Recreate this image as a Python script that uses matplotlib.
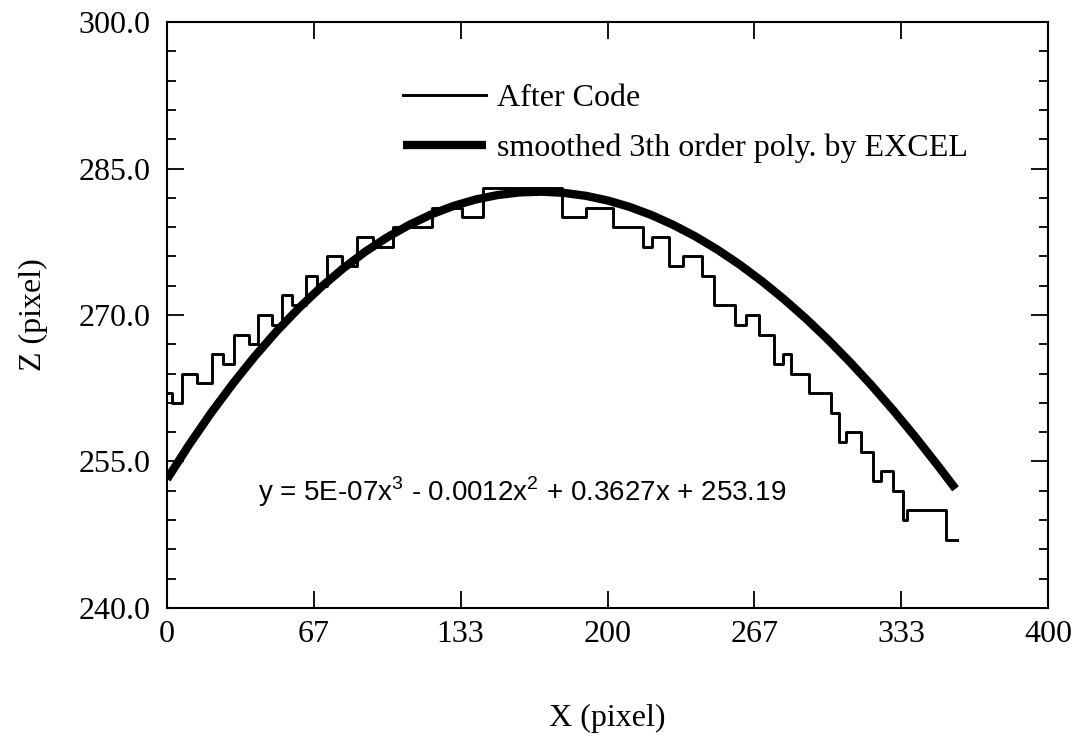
import numpy as np
import matplotlib
matplotlib.use("Agg")
import matplotlib.pyplot as plt
from matplotlib.ticker import FixedLocator, MultipleLocator, FormatStrFormatter

plt.rcParams['font.family'] = ['Liberation Serif', 'DejaVu Serif']
plt.rcParams['mathtext.fontset'] = 'custom'
plt.rcParams['mathtext.rm'] = 'Liberation Sans'

# "After Code" staircase: x where each level starts, and the level (z)
step_x = [0, 2.3, 6.8, 13.6, 20.4, 25.2, 30.4, 37.0, 41.3, 47.7,
          52.2, 56.8, 63.1, 68.1, 72.6, 79.5, 86.3, 93.5, 102.6, 120.3,
          134.0, 143.5, 179.3, 190.2, 202.7, 216.3, 220.2, 228.1, 234.1, 243.1,
          248.4, 258.1, 262.9, 269.0, 275.6, 279.5, 283.3, 291.5, 301.5, 305.1,
          308.3, 315.1, 320.5, 324.2, 329.4, 334.2, 336.0, 353.5, 358.7]
step_z = [262, 261, 264, 263, 266, 265, 268, 267, 270, 269,
          272, 271, 274, 273, 276, 275, 278, 277, 279, 281,
          280, 283, 280, 281, 279, 277, 278, 275, 276, 274,
          271, 269, 270, 268, 265, 266, 264, 262, 260, 257,
          258, 256, 253, 254, 252, 249, 250, 247, 247]

# smoothed curve
curve_x = [0, 10, 20, 30, 40, 50, 60, 70, 80, 90,
           100, 110, 120, 130, 140, 150, 160, 170, 180, 190,
           200, 210, 220, 230, 240, 250, 260, 270, 280, 290,
           300, 310, 320, 330, 340, 350, 358]
curve_z = [253.19, 256.70, 259.97, 263.00, 265.81, 268.39, 270.74, 272.87, 274.78, 276.48,
           277.96, 279.23, 280.30, 281.16, 281.82, 282.28, 282.55, 282.63, 282.51, 282.21,
           281.73, 281.07, 280.23, 279.21, 278.03, 276.68, 275.16, 273.48, 271.64, 269.65,
           267.50, 265.20, 262.76, 260.17, 257.44, 254.57, 252.2]

x_ticks = [0, 400 / 6, 800 / 6, 200, 1600 / 6, 2000 / 6, 400]
x_tick_labels = ['0', '67', '133', '200', '267', '333', '400']
equation = 'y = 5E-07x$^3$ - 0.0012x$^2$ + 0.3627x + 253.19'

fig = plt.figure(figsize=(10.81, 7.39), dpi=100)
ax = fig.add_axes([0.1545, 0.1773, 0.815, 0.7929])

ax.step(step_x, step_z, where='post', color='black', lw=2.1, label='After Code')
ax.plot(curve_x, curve_z, color='black', lw=6, solid_capstyle='butt',
        solid_joinstyle='round', label='smoothed 3th order poly. by EXCEL')

ax.set_xlim(0, 400)
ax.set_ylim(240, 300)
ax.xaxis.set_major_locator(FixedLocator(x_ticks))
ax.set_xticklabels(x_tick_labels)
ax.yaxis.set_major_locator(MultipleLocator(15))
ax.yaxis.set_minor_locator(MultipleLocator(3))
ax.yaxis.set_major_formatter(FormatStrFormatter('%.1f'))

ax.tick_params(axis='x', which='major', direction='in', length=12, width=1.3,
               top=True, labelsize=23, pad=9)
ax.tick_params(axis='y', which='major', direction='in', length=12, width=1.3,
               right=True, labelsize=23, pad=12)
ax.tick_params(axis='y', which='minor', direction='in', length=6.5, width=1.3,
               right=True)
for sp in ax.spines.values():
    sp.set_linewidth(1.5)

ax.set_xlabel('X (pixel)', fontsize=23, labelpad=39)
ax.set_ylabel('Z (pixel)', fontsize=23, labelpad=22)

ax.legend(loc='upper left', bbox_to_anchor=(0.268, 0.895), frameon=False,
          fontsize=23, handlelength=2.6, handletextpad=0.35, labelspacing=0.65,
          borderpad=0, borderaxespad=0)

ax.text(0.103, 0.198, equation, transform=ax.transAxes, fontsize=20,
        family='Liberation Sans', va='center', ha='left')

fig.savefig('out.png', dpi=100)
